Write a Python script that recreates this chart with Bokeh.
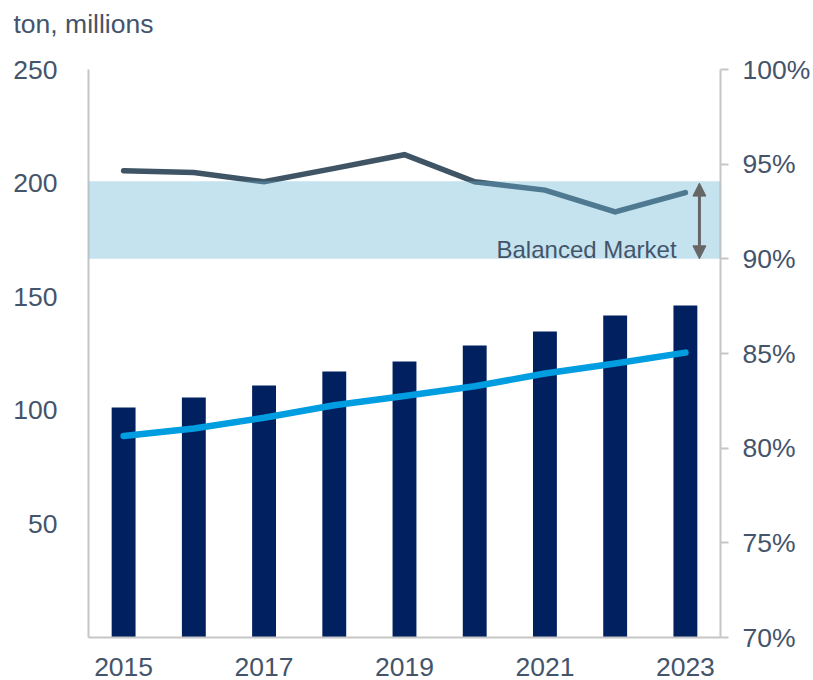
from bokeh.plotting import figure
from bokeh.models import (Range1d, LinearAxis, FixedTicker, PrintfTickFormatter,
                          BoxAnnotation, Arrow, NormalHead, Label)
from bokeh.embed import file_html
from bokeh.resources import INLINE

# ---- data ----
YEARS = [2015, 2016, 2017, 2018, 2019, 2020, 2021, 2022, 2023]
SUPPLY = [101.2, 105.6, 110.9, 117.1, 121.5, 128.5, 134.7, 141.7, 146.1]      # bars, ton millions
DEMAND = [88.7, 92.0, 96.7, 102.2, 106.3, 110.6, 116.2, 120.6, 125.4]         # light blue line
UTILIZATION = [94.65, 94.56, 94.07, 94.78, 95.5, 94.07, 93.63, 92.48, 93.5]   # %, right axis
BAND_LOW, BAND_HIGH = 90.0, 94.1
BAND_LABEL = "Balanced Market"
LEFT_TICKS = [50, 100, 150, 200, 250]
RIGHT_TICKS = [70, 75, 80, 85, 90, 95, 100]
X_TICKS = [2015, 2017, 2019, 2021, 2023]
UNIT_LABEL = "ton, millions"

TEXT = "#44546A"
AXIS = "#C6C6C6"
FONT = "Liberation Sans"
FS = "26.5px"

p = figure(width=813, height=680, output_backend="svg", toolbar_location=None,
           x_range=Range1d(2014.5, 2023.5), y_range=Range1d(0, 250),
           min_border_left=88, min_border_right=92, min_border_top=69, min_border_bottom=43)
p.outline_line_color = None
p.xgrid.visible = False
p.ygrid.visible = False
p.background_fill_color = "white"
p.border_fill_color = "white"

# unit label as a left-aligned title; a blank second line lifts it to the top
p.title.text = UNIT_LABEL + "\n\u00a0"
p.title.align = "left"
p.title.vertical_align = "top"
p.title.offset = -75
p.title.standoff = 4
p.title.text_line_height = 0.9
p.title.text_font = FONT
p.title.text_font_size = FS
p.title.text_font_style = "normal"
p.title.text_color = TEXT

p.extra_y_ranges = {"pct": Range1d(70, 100)}

# left axis
ya = p.yaxis[0]
ya.ticker = FixedTicker(ticks=LEFT_TICKS)
ya.major_tick_out = 0
ya.major_tick_in = 0
ya.minor_tick_out = 0
ya.minor_tick_in = 0
ya.major_label_standoff = 31
ya.axis_line_color = AXIS
ya.axis_line_width = 2
ya.major_label_text_font = FONT
ya.major_label_text_font_size = FS
ya.major_label_text_color = TEXT

# right axis
ra = LinearAxis(y_range_name="pct", ticker=FixedTicker(ticks=RIGHT_TICKS),
                formatter=PrintfTickFormatter(format="%d%%"))
ra.major_tick_out = 8
ra.major_tick_in = 0
ra.minor_tick_out = 0
ra.minor_tick_in = 0
ra.major_tick_line_color = AXIS
ra.major_tick_line_width = 2
ra.major_label_standoff = 14
ra.axis_line_color = AXIS
ra.axis_line_width = 2
ra.major_label_text_font = FONT
ra.major_label_text_font_size = FS
ra.major_label_text_color = TEXT
p.add_layout(ra, "right")

# bottom axis
xa = p.xaxis[0]
xa.ticker = FixedTicker(ticks=X_TICKS)
xa.formatter = PrintfTickFormatter(format="%d")
xa.major_tick_out = 0
xa.major_tick_in = 0
xa.minor_tick_out = 0
xa.minor_tick_in = 0
xa.major_label_standoff = 20
xa.major_label_text_line_height = 0.7
xa.axis_line_color = AXIS
xa.axis_line_width = 2
xa.major_label_text_font = FONT
xa.major_label_text_font_size = FS
xa.major_label_text_color = TEXT

# bars
p.vbar(x=YEARS, top=SUPPLY, width=0.34, bottom=0, fill_color="#002060", line_color=None)

# demand line
p.line(YEARS, DEMAND, line_width=6.5, line_color="#009DE0", line_cap="round", line_join="round")

# utilization line (right axis)
p.line(YEARS, UTILIZATION, y_range_name="pct", line_width=5.5, line_color="#3F5566",
       line_cap="round", line_join="miter")

# balanced market band (translucent, over the line)
band = BoxAnnotation(bottom=BAND_LOW, top=BAND_HIGH, y_range_name="pct",
                     fill_color="#66B5D5", fill_alpha=0.38, line_color=None)
p.add_layout(band)

ARROW_X = 2023.2
head = dict(size=13, fill_color="#666666", line_color="#666666", line_width=1)
arrow = Arrow(x_start=ARROW_X, y_start=BAND_LOW, x_end=ARROW_X, y_end=BAND_HIGH - 0.1,
              y_range_name="pct", start=NormalHead(**head), end=NormalHead(**head),
              line_color="#666666", line_width=3)
p.add_layout(arrow)

lbl = Label(x=2022.875, y=90.51, y_range_name="pct", text=BAND_LABEL,
            text_align="right", text_baseline="alphabetic",
            text_font=FONT, text_font_size="24px", text_color=TEXT)
p.add_layout(lbl)

open("out.html", "w").write(file_html(p, INLINE))
